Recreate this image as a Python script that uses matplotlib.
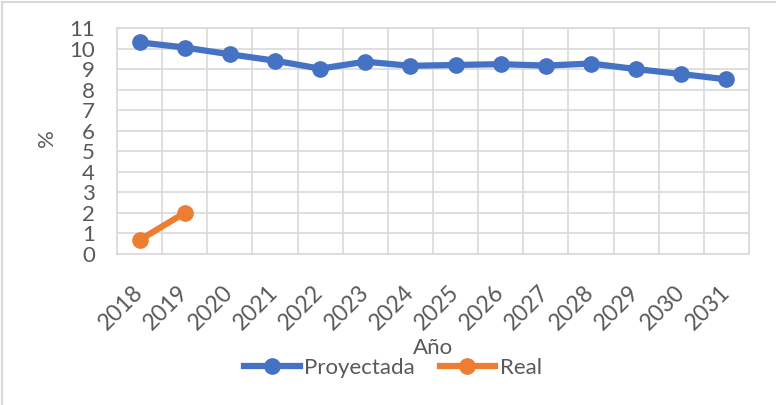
import matplotlib
matplotlib.use("Agg")
import matplotlib.pyplot as plt
from matplotlib.lines import Line2D
import numpy as np

years = ["2018", "2019", "2020", "2021", "2022", "2023", "2024",
         "2025", "2026", "2027", "2028", "2029", "2030", "2031"]
proyectada = [10.3, 10.05, 9.72, 9.41, 9.02, 9.36, 9.16,
              9.2, 9.24, 9.17, 9.27, 9.0, 8.76, 8.5]
real = [0.68, 2.0]

BLUE, ORANGE = "#4472C4", "#ED7D31"
GRID, TXT = "#D9D9D9", "#595959"
plt.rcParams["font.family"] = ["Lato", "DejaVu Sans"]

fig = plt.figure(figsize=(7.76, 4.05), dpi=100)
ax = fig.add_axes([117 / 776, 1 - 254 / 405, 632 / 776, 226 / 405])

x = np.arange(len(years))
ax.plot(x, proyectada, color=BLUE, lw=4.5, marker="o", ms=11, label="Proyectada")
ax.plot(x[:len(real)], real, color=ORANGE, lw=4.5, marker="o", ms=11, label="Real")

ax.set_xlim(-0.5, len(years) - 0.5)
ax.set_ylim(0, 11)
ax.set_yticks(range(0, 12))
ax.set_xticks(x)
ax.set_xticklabels(years, rotation=45, ha="right", va="center", rotation_mode="anchor")
ax.set_xticks(np.arange(-0.5, len(years)), minor=True)
ax.grid(True, axis="y", color=GRID, lw=1.2)
ax.grid(True, axis="x", which="minor", color=GRID, lw=1.2)
ax.tick_params(axis="both", which="both", length=0, colors=TXT, labelsize=16)
ax.tick_params(axis="y", pad=16)
ax.tick_params(axis="x", pad=25, labelsize=16.5)
for sp in ax.spines.values():
    sp.set_color(GRID)
    sp.set_linewidth(1.2)
ax.set_axisbelow(True)

ax.set_xlabel("Año", fontsize=16, color=TXT, va="center")
ax.xaxis.set_label_coords(0.5, -0.415)
ax.set_ylabel("%", fontsize=16, color=TXT, va="center")
ax.yaxis.set_label_coords(-0.111, 0.513)

fig.legend(loc="center", bbox_to_anchor=(393 / 776, 1 - 368 / 405), ncol=2,
           frameon=False, fontsize=16, handlelength=2.5, columnspacing=1.1,
           handletextpad=0.2, labelcolor=TXT)

# chart area border (left and top edges visible)
fig.add_artist(Line2D([2 / 776, 2 / 776], [0, 1 - 2 / 405], transform=fig.transFigure,
                      color=GRID, lw=1.5))
fig.add_artist(Line2D([2 / 776, 1], [1 - 2 / 405, 1 - 2 / 405], transform=fig.transFigure,
                      color=GRID, lw=1.5))

fig.savefig("out.png", dpi=100)
